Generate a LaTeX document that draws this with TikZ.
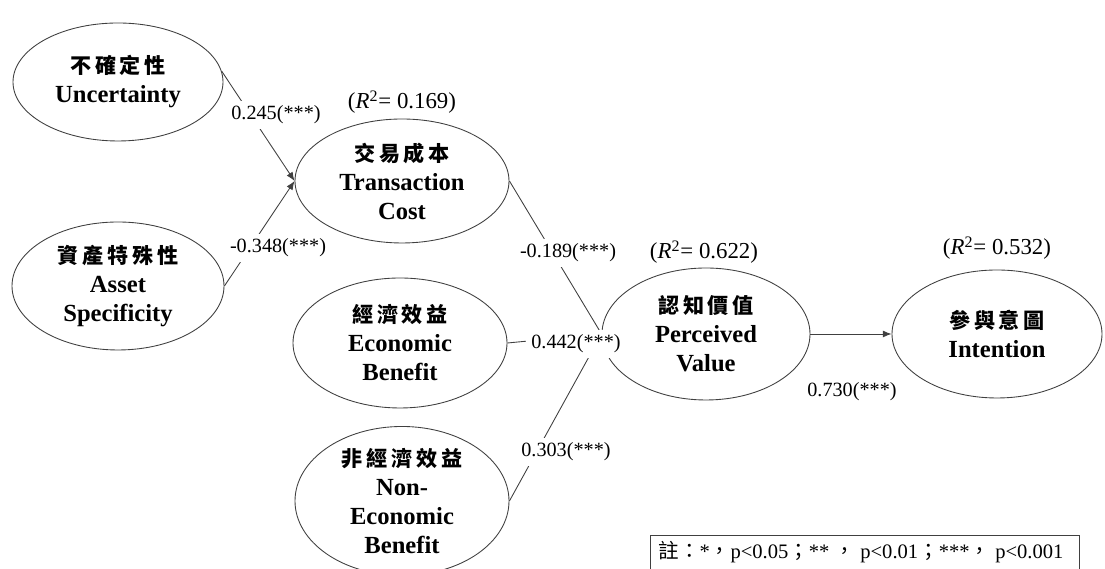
\documentclass[tikz,border=0pt]{standalone}
\usepackage{fontspec}
\setmainfont{Liberation Serif}
\newfontfamily\cjk{Noto Sans CJK TC}
\usetikzlibrary{shapes.geometric,arrows.meta}

\tikzset{
	construct/.style={ellipse, draw=black!75, line width=0.5pt, inner sep=0pt, align=center, font=\bfseries\fontsize{14}{16.5}\selectfont},
	coef/.style={fill=white, inner sep=3pt, font=\fontsize{11.5}{13}\selectfont},
	rsq/.style={font=\fontsize{13}{15}\selectfont},
	link/.style={draw=black!75, line width=0.5pt},
	arrowlink/.style={link, -{Latex[length=5pt,width=4pt]}}
}
\newcommand{\zh}[1]{{\cjk\fontsize{12}{16.5}\selectfont\addfontfeature{LetterSpace=18}#1}}
\newcommand{\rsqtext}[1]{(\textit{R}\textsuperscript{2}= #1)}

\begin{document}
\begin{tikzpicture}
	%%%%% START %%%%%
	\useasboundingbox (0, 0) rectangle (22.1, 11.38);
	
	% constructs
	\node[construct, minimum width=4.2cm, minimum height=2.36cm] (unc) at (2.36, 9.74) {\zh{不確定性}\\Uncertainty};
	\node[construct, minimum width=4.24cm, minimum height=2.56cm] (asset) at (2.36, 5.66) {\zh{資產特殊性}\\Asset\\Specificity};
	\node[construct, minimum width=4.28cm, minimum height=2.48cm] (tc) at (8.04, 7.76) {\zh{交易成本}\\Transaction\\Cost};
	\node[construct, minimum width=4.28cm, minimum height=2.6cm] (eb) at (8.0, 4.52) {\zh{經濟效益}\\Economic\\Benefit};
	\node[construct, minimum width=4.28cm, minimum height=2.64cm] (neb) at (8.04, 1.36) {\zh{非經濟效益}\\Non-\\Economic\\Benefit};
	\node[construct, minimum width=4.16cm, minimum height=2.64cm] (pv) at (14.12, 4.7) {\zh{認知價值}\\Perceived\\Value};
	\node[construct, minimum width=4.2cm, minimum height=2.56cm] (int) at (19.94, 4.7) {\zh{參與意圖}\\Intention};
	
	% paths
	\draw[arrowlink] (unc.6) -- (tc.west);
	\draw[arrowlink] (asset.east) -- (tc.west);
	\draw[link] (tc.east) -- (pv.west);
	\draw[link] (eb.east) -- (pv.west);
	\draw[link] (neb.east) -- (pv.west);
	\draw[arrowlink] (pv.east) -- (int.west);
	
	% coefficients
	\node[coef] (c1) at (5.52, 9.08) {0.245(***)};
	\node[coef] (c2) at (5.56, 6.42) {-0.348(***)};
	\node[coef] (c3) at (11.36, 6.32) {-0.189(***)};
	\node[coef] (c4) at (11.52, 4.5) {0.442(***)};
	\node[coef] (c5) at (11.32, 2.34) {0.303(***)};
	\node[coef] (c6) at (17.04, 3.54) {0.730(***)};
	
	% R squared
	\node[rsq] (r1) at (8.04, 9.34) {\rsqtext{0.169}};
	\node[rsq] (r2) at (14.08, 6.34) {\rsqtext{0.622}};
	\node[rsq] (r3) at (19.94, 6.42) {\rsqtext{0.532}};
	
	% note
	\draw[link] (13.0, 0) |- (21.58, 0.68) -- (21.58, 0);
	\node[coef, fill=none, font=\fontsize{11.7}{14}\selectfont] (note) at (17.22, 0.34) {{\cjk 註：}*{\cjk ，}p<0.05{\cjk ；}** {\cjk ，} p<0.01{\cjk ；}***{\cjk ，} p<0.001};
	%%%%% END %%%%%
\end{tikzpicture}
\end{document}
